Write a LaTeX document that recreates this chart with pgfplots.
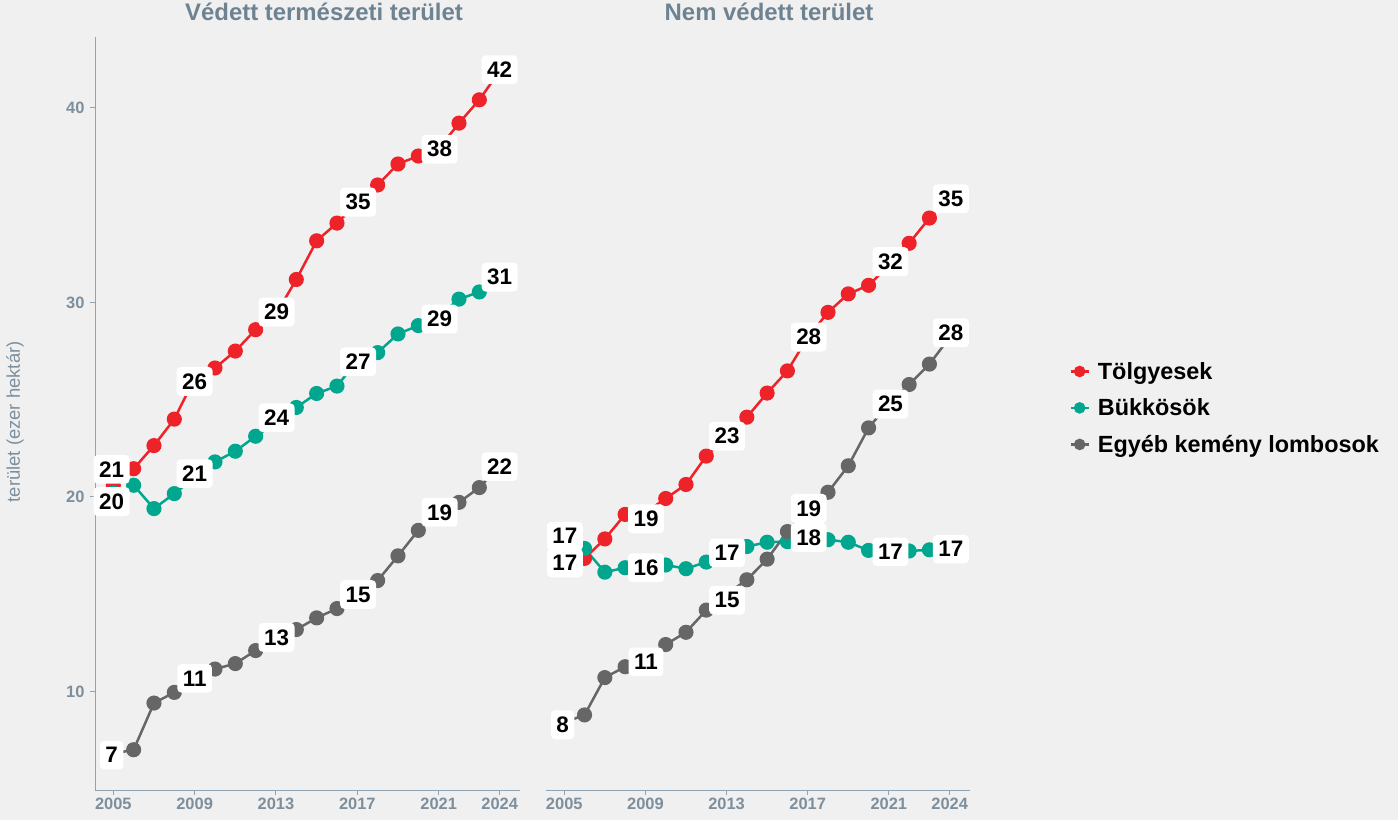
\documentclass[border=0pt]{standalone}
\usepackage{fontspec}
\setmainfont{Liberation Sans}
\usepackage{pgfplots}
\pgfplotsset{compat=1.18}
\usepackage{pgfplotstable}

\definecolor{bg}{HTML}{F0F0F0}
\definecolor{cRed}{HTML}{EE2229}
\definecolor{cGreen}{HTML}{00A78E}
\definecolor{cGrey}{HTML}{666666}
\definecolor{axc}{HTML}{8FA3B3}
\definecolor{tickc}{HTML}{7D8F9D}
\definecolor{titc}{HTML}{6E8391}

\pgfplotstableread{
year red green grey
2005 20.6 20.2 6.8
2006 21.45 20.6 7.0
2007 22.64 19.4 9.4
2008 24.0 20.17 9.95
2009 26.1 21.0 10.6
2010 26.63 21.8 11.15
2011 27.5 22.35 11.43
2012 28.6 23.12 12.1
2013 29.4 23.8 12.9
2014 31.18 24.6 13.18
2015 33.17 25.32 13.78
2016 34.08 25.7 14.26
2017 35.1 27.0 15.0
2018 36.04 27.42 15.7
2019 37.12 28.38 16.97
2020 37.53 28.81 18.28
2021 37.9 29.3 19.2
2022 39.22 30.17 19.72
2023 40.42 30.54 20.48
2024 41.9 31.2 21.6
}\leftdata

\pgfplotstableread{
year red green grey
2005 16.7 17.2 8.4
2006 16.84 17.35 8.79
2007 17.84 16.13 10.71
2008 19.1 16.36 11.27
2009 19.2 16.4 11.4
2010 19.92 16.5 12.41
2011 20.64 16.31 13.04
2012 22.1 16.65 14.18
2013 23.1 17.0 15.0
2014 24.1 17.45 15.74
2015 25.34 17.67 16.8
2016 26.48 17.7 18.22
2017 28.2 17.8 19.3
2018 29.49 17.8 20.24
2019 30.44 17.67 21.6
2020 30.88 17.25 23.55
2021 31.9 17.2 24.8
2022 33.04 17.22 25.78
2023 34.34 17.28 26.83
2024 35.4 17.3 28.2
}\rightdata

\pgfplotstableread{
x y lab
2004.92 21.42 21
2004.92 19.76 20
2009.0 25.94 26
2013.03 29.5 29
2017.04 35.16 35
2021.05 37.88 38
2024.0 41.97 42
2009.0 21.2 21
2013.03 24.07 24
2017.04 26.95 27
2021.05 29.15 29
2024.0 31.3 31
2004.92 6.72 7
2009.0 10.67 11
2013.03 12.78 13
2017.04 14.98 15
2021.05 19.21 19
2024.0 21.56 22
}\leftlabels

\pgfplotstableread{
x y lab
2005.03 17.98 17
2005.03 16.6 17
2009.03 18.87 19
2013.03 23.12 23
2017.05 28.22 28
2021.08 32.1 32
2024.06 35.33 35
2009.03 16.36 16
2013.03 17.13 17
2017.05 17.92 18
2021.08 17.18 17
2024.06 17.32 17
2004.92 8.28 8
2009.03 11.52 11
2013.03 14.69 15
2017.05 19.41 19
2021.08 24.77 25
2024.06 28.44 28
}\rightlabels

\pgfplotsset{
  panel/.style={
    scale only axis, height=753bp,
    anchor=south west,
    xmin=2004.1, xmax=2025, ymin=4.93, ymax=43.65,
    axis line style={-, axc, line width=1bp},
    xtick={2005,2009,2013,2017,2021,2024},
    xtick pos=bottom,
    tick align=outside, major tick length=5bp,
    tick style={axc, line width=1bp},
    ticklabel style={font=\fontsize{16.5}{18}\selectfont\bfseries, text=tickc},
    /pgf/number format/assume math mode=true,
    /pgf/number format/1000 sep={},
    clip=false,
    title style={font=\fontsize{24}{27}\selectfont\bfseries, text=titc, anchor=center},
  },
  ser/.style={line width=2.5bp, color=#1, mark=*, mark size=6.3bp, mark options={solid, fill=#1, draw=#1}},
  labs/.style={forget plot, only marks, mark=none, nodes near coords,
    point meta=explicit symbolic,
    every node near coord/.style={anchor=center, fill=white, rounded corners=4bp,
      text=black, font=\fontsize{22.5}{24}\selectfont\bfseries, inner xsep=5.5bp, inner ysep=6.5bp}},
}

\begin{document}
\begin{tikzpicture}
\fill[bg] (0,0) rectangle (1398bp,820bp);

\begin{axis}[panel, at={(95bp,30bp)}, width=425bp,
  axis x line*=bottom, axis y line*=left, ytick pos=left,
  ytick={10,20,30,40},
  yticklabel style={xshift=-2bp},
  ylabel={terület (ezer hektár)},
  ylabel style={at={(axis description cs:-0.188,0.489)}, anchor=center,
    font=\fontsize{18.5}{20}\selectfont, text=tickc},
  title={Védett természeti terület},
  title style={at={(axis description cs:0.539,1.0252)}},
]
\addplot[ser=cRed] table[x=year,y=red]{\leftdata};
\addplot[ser=cGreen] table[x=year,y=green]{\leftdata};
\addplot[ser=cGrey] table[x=year,y=grey]{\leftdata};
\addplot[labs] table[x=x,y=y,meta=lab]{\leftlabels};
\end{axis}

\begin{axis}[panel, at={(546bp,30bp)}, width=424bp,
  axis x line*=bottom, axis y line=none,
  title={Nem védett terület},
  title style={at={(axis description cs:0.526,1.0252)}},
  legend style={at={(axis description cs:1.234,0.571)}, anchor=north west,
    draw=none, fill=none, font=\fontsize{23.5}{26}\selectfont\bfseries,
    row sep=14bp, inner sep=0pt,
    /tikz/every odd column/.append style={column sep=6bp}},
  legend cell align=left,
  legend image code/.code={\draw[mark repeat=2, mark phase=2, mark size=4.5bp, line width=2.5bp]
     plot coordinates {(0bp,0bp) (9bp,0bp) (18bp,0bp)};},
]
\addplot[ser=cRed] table[x=year,y=red]{\rightdata};
\addlegendentry{Tölgyesek}
\addplot[ser=cGreen] table[x=year,y=green]{\rightdata};
\addlegendentry{Bükkösök}
\addplot[ser=cGrey] table[x=year,y=grey]{\rightdata};
\addlegendentry{Egyéb kemény lombosok}
\addplot[labs] table[x=x,y=y,meta=lab]{\rightlabels};
\end{axis}

\pgfresetboundingbox
\useasboundingbox (0,0) rectangle (1398bp,820bp);
\end{tikzpicture}
\end{document}
